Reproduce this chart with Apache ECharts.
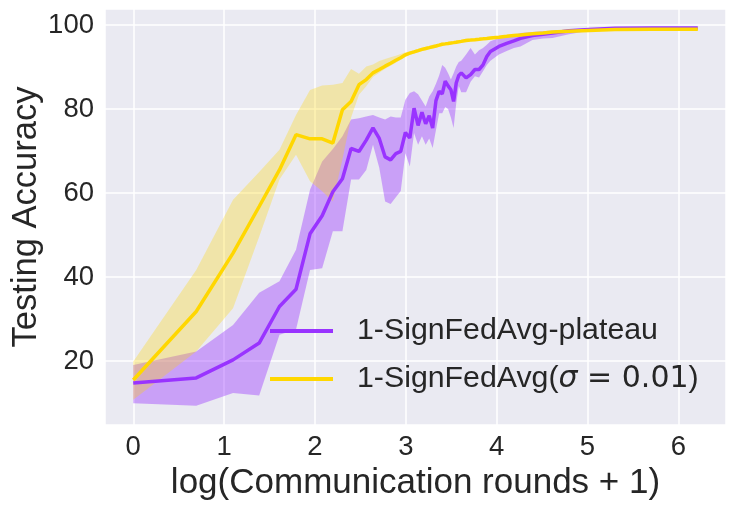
<!DOCTYPE html>
<html>
<head>
<meta charset="utf-8">
<script src="https://cdn.jsdelivr.net/npm/echarts@6/dist/echarts.min.js"></script>
<style>
html,body{margin:0;padding:0;background:#ffffff;}
#chart{width:734px;height:509px;}
</style>
</head>
<body>
<div id="chart"></div>
<script>
// communication rounds at which values were read (x = log(round + 1))
const rounds = [0,1,2,3,4,5,6,7,8,9,10,11,12,13,14,15,16,17,18,19,20,21,22,23,24,25,26,27,28,29,30,31,32,33,34,35,36,38,40,42,44,46,48,50,55,60,65,70,80,90,100,120,150,200,300,400,499];

const plateauMean = [14.8,16.0,20.3,24.3,33.0,37.1,50.3,54.6,60.3,63.4,70.6,69.9,72.6,75.5,73.0,68.6,67.9,69.4,69.9,74.4,73.1,80.2,76.1,79.2,76.5,78.4,75.5,82.0,84.2,83.6,86.6,85.5,84.6,81.8,86.2,88.0,88.6,87.4,88.2,89.4,89.4,90.5,92.5,93.7,94.9,95.6,96.2,96.8,97.5,97.8,98.1,98.6,98.9,99.2,99.3,99.3,99.3];
const plateauLow = [10.0,9.4,12.4,11.8,26.3,27.5,41.7,42.1,50.9,50.9,63.2,63.2,65.5,71.5,66.0,58.0,57.4,59.0,60.5,69.5,66.3,74.3,71.5,73.5,71.5,73.0,70.7,75.0,79.0,79.0,80.5,80.0,78.0,75.5,81.4,85.5,84.0,84.0,86.5,87.8,87.5,89.0,90.5,91.5,93.0,93.8,94.5,94.9,96.4,96.8,96.9,97.8,98.6,99.0,99.1,99.1,99.1];
const plateauUp = [19.1,22.3,28.6,36.3,39.0,46.5,60.8,67.5,70.5,73.5,77.5,77.8,78.2,78.6,78.0,77.5,78.2,78.0,78.0,82.2,83.8,84.2,83.5,82.0,80.6,83.0,84.2,86.0,88.0,90.5,89.8,88.5,87.0,88.5,90.1,91.2,91.5,93.0,94.5,93.0,94.0,94.5,95.3,96.1,96.9,97.2,97.6,98.1,98.3,98.5,98.7,98.9,99.2,99.4,99.5,99.5,99.4];

const sigmaMean = [15.5,31.8,45.7,56.8,65.5,73.9,72.9,72.9,71.9,79.8,81.8,85.8,87.0,88.6,89.4,90.2,90.9,91.6,92.2,92.9,93.3,93.6,93.9,94.2,94.4,94.6,94.8,95.0,95.2,95.4,95.5,95.6,95.7,95.8,95.9,96.0,96.1,96.3,96.4,96.5,96.6,96.7,96.8,96.9,97.1,97.3,97.5,97.6,97.9,98.1,98.3,98.5,98.7,98.9,99.0,99.0,99.0];
const sigmaLow = [10.8,22.3,32.6,49.6,63.2,69.1,62.8,60.4,58.0,68.0,78.0,83.4,85.4,87.6,88.6,89.6,90.3,91.0,91.7,92.4,92.9,93.2,93.5,93.8,94.0,94.2,94.4,94.6,94.8,95.0,95.2,95.3,95.4,95.5,95.6,95.7,95.8,96.0,96.2,96.3,96.4,96.5,96.6,96.7,96.9,97.1,97.3,97.5,97.8,98.0,98.2,98.4,98.6,98.8,98.9,98.9,98.9];
const sigmaUp = [19.9,41.7,58.4,65.0,70.3,78.6,84.5,85.6,85.8,86.2,89.5,88.4,90.1,90.6,91.4,91.9,92.3,92.7,93.1,93.5,93.7,94.0,94.3,94.6,94.8,95.0,95.2,95.4,95.6,95.8,95.9,96.0,96.1,96.2,96.3,96.4,96.5,96.7,96.7,96.8,96.9,97.0,97.1,97.2,97.4,97.6,97.8,97.9,98.1,98.3,98.5,98.7,98.9,99.1,99.2,99.2,99.1];

const seriesNames = ['1-SignFedAvg-plateau', '1-SignFedAvg(σ = 0.01)'];
const xTicks = [0,1,2,3,4,5,6];
const yTicks = [20,40,60,80,100];

const xs = rounds.map(t => Math.log(t + 1));
const pairs = arr => xs.map((x, i) => [x, arr[i]]);

function band(low, up, fill) {
  return {
    type: 'custom',
    silent: true,
    data: xs.map((x, i) => [x, low[i], up[i]]),
    encode: { x: 0, y: [1, 2] },
    renderItem: function (params, api) {
      if (params.dataIndex !== 0) return null;
      const pts = [];
      for (let i = 0; i < xs.length; i++) pts.push(api.coord([xs[i], low[i]]));
      for (let i = xs.length - 1; i >= 0; i--) pts.push(api.coord([xs[i], up[i]]));
      return { type: 'polygon', shape: { points: pts }, style: { fill: fill } };
    }
  };
}

const FONT = '"Liberation Sans", Arial, sans-serif';
const TXT = '#262626';
const purple = '#9933ff';
const gold = '#ffd700';

const chart = echarts.init(document.getElementById('chart'), null, { renderer: 'canvas' });
chart.setOption({
  animation: false,
  backgroundColor: '#ffffff',
  textStyle: { fontFamily: FONT },
  grid: {
    left: 105, right: 8, top: 9, bottom: 84, show: true, backgroundColor: '#eaeaf2', borderWidth: 0,
    containLabel: false, outerBoundsMode: 'none'
  },
  xAxis: {
    type: 'value', min: -0.311, max: 6.525, splitNumber: 7,
    axisLine: { show: false }, axisTick: { show: false },
    splitLine: { show: true, lineStyle: { color: '#ffffff', width: 1.5 } },
    axisLabel: {
      fontSize: 27.5, color: TXT, fontFamily: FONT, margin: 8,
      formatter: v => xTicks.some(t => Math.abs(t - v) < 1e-6) ? String(Math.round(v)) : ''
    },
    name: 'log(Communication rounds + 1)', nameLocation: 'middle', nameGap: 40,
    nameTextStyle: { fontSize: 35, color: TXT, fontFamily: FONT }
  },
  yAxis: {
    type: 'value', min: 4.8, max: 103.8, splitNumber: 5,
    axisLine: { show: false }, axisTick: { show: false },
    splitLine: { show: true, lineStyle: { color: '#ffffff', width: 1.5 } },
    axisLabel: {
      fontSize: 27.5, color: TXT, fontFamily: FONT, margin: 11,
      formatter: v => yTicks.some(t => Math.abs(t - v) < 1e-6) ? String(Math.round(v)) : ''
    },
    name: 'Testing Accuracy', nameLocation: 'middle', nameGap: 61, nameMoveOverlap: false,
    nameTextStyle: { fontSize: 34.5, color: TXT, fontFamily: FONT }
  },
  legend: {
    data: seriesNames,
    orient: 'vertical', left: 270, top: 314, padding: 0,
    icon: 'rect', itemWidth: 63, itemHeight: 4, itemGap: 14,
    formatter: function (name) {
      if (name === seriesNames[1]) return '1-SignFedAvg({s|σ}{m| = 0.01})';
      return name;
    },
    textStyle: {
      fontSize: 30.3, color: TXT, fontFamily: FONT, lineHeight: 34, padding: [0, 0, 0, 19],
      rich: {
        s: { fontSize: 30, fontStyle: 'italic', fontFamily: '"DejaVu Sans"', color: TXT, lineHeight: 34 },
        m: { fontSize: 30, fontFamily: '"DejaVu Sans"', color: TXT, lineHeight: 34 }
      }
    }
  },
  series: [
    band(plateauLow, plateauUp, 'rgba(153,51,255,0.4)'),
    {
      type: 'line', name: seriesNames[0], data: pairs(plateauMean),
      showSymbol: false, symbol: 'none', color: purple,
      lineStyle: { color: purple, width: 3.5 }, itemStyle: { color: purple }
    },
    band(sigmaLow, sigmaUp, 'rgba(255,215,0,0.3)'),
    {
      type: 'line', name: seriesNames[1], data: pairs(sigmaMean),
      showSymbol: false, symbol: 'none', color: gold,
      lineStyle: { color: gold, width: 3.5 }, itemStyle: { color: gold }
    }
  ]
});
</script>
</body>
</html>
